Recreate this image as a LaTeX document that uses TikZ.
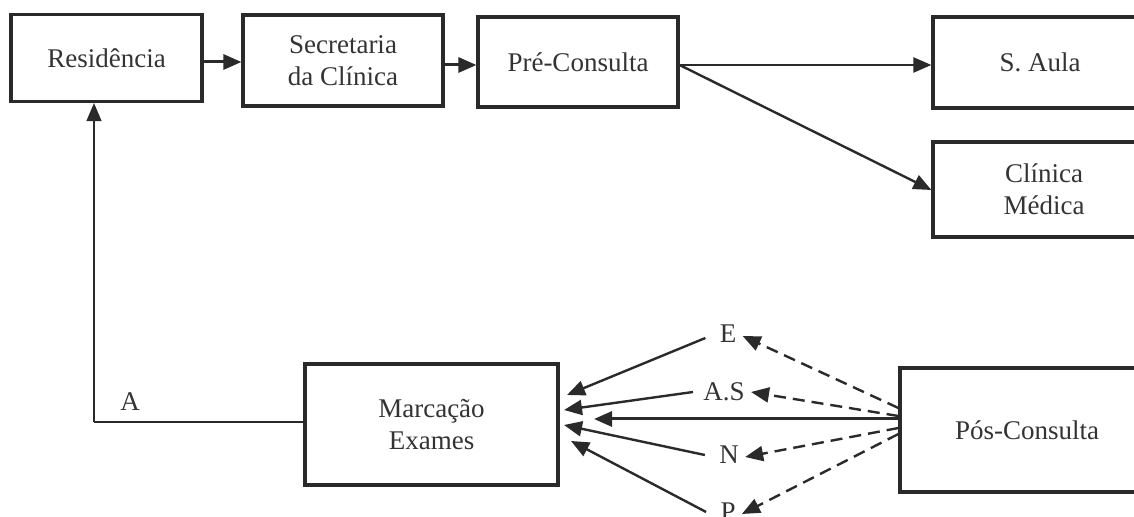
\documentclass[tikz,border=0pt]{standalone}
\usepackage{fontspec}
\setmainfont{Liberation Serif}
\usetikzlibrary{arrows.meta,calc}
\definecolor{ink}{HTML}{2A2A2A}
\definecolor{txt}{HTML}{333333}
\tikzset{
  box/.style={draw=ink, line width=1.6pt, rectangle, inner sep=0pt, align=center, text=txt, font=\fontsize{13.5}{16}\selectfont},
  lbl/.style={inner sep=1pt, text=txt, font=\fontsize{13.5}{16}\selectfont},
  tip/.style={-{Triangle[length=9pt,width=7.5pt]}},
  arr/.style={draw=ink, line width=1.2pt, tip},
  harr/.style={arr, line width=1.5pt},
  darr/.style={arr, dash pattern=on 6pt off 3.5pt},
  thin/.style={draw=ink, line width=0.8pt}
}
\begin{document}
\begin{tikzpicture}[x=0.5pt,y=-0.5pt]
\useasboundingbox (0,0) rectangle (1134,517);
\clip (0,0) rectangle (1134,517);
% boxes
\node[box, minimum width=191*0.5pt, minimum height=87*0.5pt] (res) at (106.5,58) {Residência};
\node[box, minimum width=200*0.5pt, minimum height=91*0.5pt] (sec) at (343,60.5) {Secretaria\\da Clínica};
\node[box, minimum width=200*0.5pt, minimum height=90*0.5pt] (pre) at (578,62) {Pré-Consulta};
\node[box, minimum width=214*0.5pt, minimum height=91*0.5pt] (aula) at (1040,62.5) {S. Aula};
\node[box, minimum width=222*0.5pt, minimum height=95*0.5pt] (clin) at (1044,189.5) {Clínica\\Médica};
\node[box, minimum width=253*0.5pt, minimum height=121*0.5pt] (marc) at (431.5,424.5) {Marcação\\Exames};
\node[box, minimum width=254*0.5pt, minimum height=124*0.5pt] (pos) at (1027,430) {Pós-Consulta};
% labels
\node[lbl] (E) at (728,334) {E};
\node[lbl] (AS) at (724,392) {A.S};
\node[lbl] (N) at (729,455) {N};
\node[lbl] (P) at (728,512) {P};
\node[lbl] (A) at (130,402) {A};
% top connectors
\draw[harr] (res.east |- 0,62) -- (sec.west |- 0,62);
\draw[harr] (sec.east |- 0,65) -- (pre.west |- 0,65);
\draw[arr] (pre.east |- 0,65) -- (aula.west |- 0,65);
\draw[arr] (pre.east |- 0,65) -- (clin.west |- 0,190);
% return line
\coordinate (ret) at (94,422);
\draw[thin] (marc.west |- ret) -- (ret);
\draw[thin, tip] (ret) -- (ret |- res.south);
% solid arrows into Marcação
\coordinate (m1) at (567,395);
\coordinate (m2) at (564,410);
\coordinate (m3) at (564,425);
\coordinate (m4) at (571,441);
\coordinate (mh) at (594,419);
\draw[arr] (E.west) ++(-12,4) coordinate (e0) -- (m1);
\draw[arr] (AS.west) ++(-8,0) coordinate (a0) -- (m2);
\draw[arr] (N.west) ++(-12,0) coordinate (n0) -- (m3);
\draw[arr] (P.west) ++(-12,0) coordinate (p0) -- (m4);
\draw[harr] (pos.west |- 0,419) -- (mh);
% dashed arrows from Pós-Consulta
\draw[darr] (pos.west |- 0,408) -- ($(E.east)+(4,2)$);
\draw[darr] (pos.west |- 0,416) -- ($(AS.east)+(4,0)$);
\draw[darr] (pos.west |- 0,428) -- ($(N.east)+(4,2)$);
\draw[darr] (pos.west |- 0,434) -- ($(P.east)+(4,2)$);
\end{tikzpicture}
\end{document}
